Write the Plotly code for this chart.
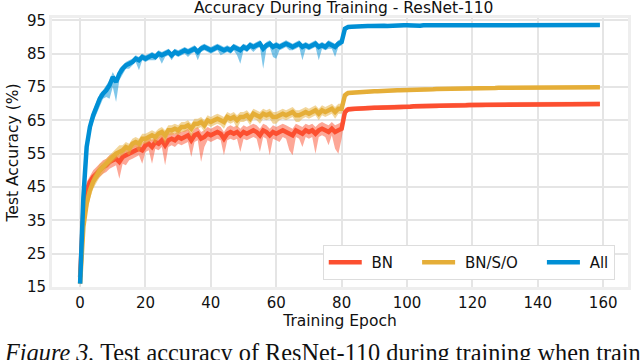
import plotly.graph_objects as go

# epochs 0..159
epochs = list(range(160))

# mean test accuracy per epoch
all_mean = [
    16.0, 42.0, 57.0, 63.0, 66.5, 69.0, 71.5, 73.0, 74.0, 75.5,
    78.0, 76.5, 79.0, 80.5, 81.5, 82.0, 82.5, 83.5, 83.0, 84.0,
    83.5, 84.0, 84.5, 84.0, 85.0, 84.5, 85.0, 85.5, 84.5, 85.5,
    85.0, 85.5, 86.0, 85.5, 86.0, 86.5, 85.5, 86.5, 87.0, 86.5,
    86.0, 86.5, 87.0, 86.5, 86.0, 86.5, 86.0, 87.0, 86.5, 86.0,
    87.0, 86.5, 87.5, 87.0, 87.5, 88.0, 86.5, 87.5, 88.0, 87.0,
    87.5, 87.0, 87.5, 88.0, 87.5, 87.0, 87.5, 88.0, 87.0, 87.5,
    87.0, 87.5, 88.0, 87.0, 87.5, 87.0, 88.0, 87.5, 87.0, 88.0,
    88.5, 92.5, 93.0, 93.1, 93.2, 93.2, 93.3, 93.2, 93.3, 93.3,
    93.4, 93.3, 93.4, 93.4, 93.3, 93.4, 93.5, 93.4, 93.4, 93.5,
    93.5, 93.4, 93.5, 93.5, 93.4, 93.5, 93.5, 93.5, 93.6, 93.5,
    93.5, 93.6, 93.5, 93.5, 93.6, 93.5, 93.6, 93.6, 93.5, 93.6,
    93.6, 93.5, 93.6, 93.6, 93.6, 93.5, 93.6, 93.6, 93.6, 93.5,
    93.6, 93.6, 93.5, 93.6, 93.6, 93.6, 93.5, 93.6, 93.6, 93.6,
    93.6, 93.5, 93.6, 93.6, 93.6, 93.6, 93.5, 93.6, 93.6, 93.6,
    93.6, 93.6, 93.5, 93.6, 93.6, 93.6, 93.6, 93.5, 93.6, 93.6,
]
bnso_mean = [
    16.0, 33.0, 40.0, 44.0, 46.5, 48.5, 50.0, 51.0, 52.0, 53.0,
    54.0, 55.0, 55.5, 56.0, 57.0, 56.5, 58.0, 58.5, 58.0, 59.5,
    59.5, 60.0, 60.5, 60.0, 61.0, 61.5, 60.5, 62.0, 62.0, 62.5,
    62.0, 63.0, 63.0, 63.5, 62.5, 64.0, 64.0, 64.5, 63.5, 65.0,
    64.5, 65.0, 65.5, 65.0, 64.5, 66.0, 65.5, 66.0, 65.0, 66.0,
    66.0, 66.5, 65.5, 67.0, 66.5, 66.0, 67.0, 66.5, 67.0, 66.0,
    66.0, 66.5, 67.0, 66.5, 67.0, 67.5, 66.5, 66.5, 67.0, 67.5,
    67.0, 67.5, 68.0, 67.0, 68.0, 67.5, 68.0, 68.5, 67.5, 68.5,
    68.5, 72.5, 73.2, 73.3, 73.4, 73.4, 73.5, 73.5, 73.6, 73.6,
    73.7, 73.7, 73.8, 73.8, 73.8, 73.9, 73.9, 74.0, 74.0, 74.0,
    74.1, 74.1, 74.1, 74.2, 74.2, 74.2, 74.3, 74.3, 74.3, 74.4,
    74.4, 74.4, 74.4, 74.5, 74.5, 74.5, 74.5, 74.6, 74.6, 74.6,
    74.6, 74.6, 74.7, 74.7, 74.7, 74.7, 74.7, 74.7, 74.8, 74.8,
    74.8, 74.8, 74.8, 74.8, 74.8, 74.8, 74.9, 74.8, 74.9, 74.9,
    74.9, 74.8, 74.9, 74.9, 74.9, 74.9, 74.9, 74.9, 74.9, 74.9,
    74.9, 74.9, 74.9, 74.9, 74.9, 74.9, 74.9, 74.9, 74.9, 74.9,
]
bn_mean = [
    18.0, 38.0, 44.0, 46.5, 48.0, 49.0, 50.0, 51.0, 51.5, 52.5,
    53.0, 53.5, 52.5, 54.0, 54.5, 55.0, 55.5, 56.0, 56.5, 56.0,
    57.5, 58.0, 57.0, 58.5, 58.0, 59.0, 57.5, 59.0, 59.5, 59.0,
    60.0, 59.5, 60.0, 60.5, 59.0, 60.5, 61.0, 59.5, 60.0, 61.0,
    60.5, 61.0, 61.5, 61.0, 59.5, 61.0, 61.5, 61.0, 61.5, 60.5,
    61.5, 61.0, 61.5, 62.0, 61.5, 60.5, 62.0, 61.5, 60.5, 61.5,
    61.0, 61.5, 62.0, 61.5, 61.0, 60.5, 62.0, 61.5, 61.0, 62.0,
    61.5, 62.0, 61.0, 62.0, 62.5, 62.0, 61.5, 62.5, 61.5, 62.0,
    62.5, 67.5, 68.3, 68.4, 68.5, 68.5, 68.6, 68.6, 68.7, 68.7,
    68.8, 68.8, 68.8, 68.9, 68.9, 68.9, 69.0, 69.0, 69.0, 69.1,
    69.1, 69.1, 69.2, 69.2, 69.2, 69.2, 69.3, 69.3, 69.3, 69.3,
    69.4, 69.4, 69.4, 69.4, 69.5, 69.5, 69.5, 69.5, 69.5, 69.6,
    69.6, 69.6, 69.6, 69.6, 69.7, 69.7, 69.7, 69.7, 69.7, 69.7,
    69.7, 69.8, 69.8, 69.8, 69.8, 69.8, 69.8, 69.8, 69.8, 69.8,
    69.8, 69.8, 69.9, 69.8, 69.9, 69.8, 69.9, 69.9, 69.8, 69.9,
    69.9, 69.9, 69.9, 69.8, 69.9, 69.9, 69.9, 69.9, 69.9, 69.9,
]

# spread of the shaded band below / above the mean
all_lo = [
    1.0, 3.0, 3.0, 2.0, 2.0, 2.0, 2.0, 1.5, 2.0, 4.0,
    3.0, 6.0, 2.0, 1.5, 1.0, 1.5, 1.0, 1.0, 3.0, 1.0,
    1.0, 1.0, 1.5, 1.0, 1.0, 2.5, 1.0, 1.0, 1.5, 1.0,
    1.0, 1.0, 1.0, 1.5, 1.0, 1.0, 2.5, 1.0, 1.0, 1.0,
    1.0, 1.0, 1.0, 2.0, 1.0, 1.0, 1.0, 1.0, 2.0, 4.0,
    1.0, 1.0, 1.0, 1.5, 1.0, 1.0, 6.0, 1.0, 1.0, 3.0,
    4.0, 1.0, 1.0, 1.0, 1.5, 1.0, 1.0, 1.0, 4.0, 1.0,
    1.0, 1.0, 1.0, 4.0, 1.0, 1.0, 1.5, 1.0, 3.0, 1.0,
    1.0, 1.0, 0.6, 0.5, 0.5, 0.5, 0.5, 0.5, 0.5, 0.5,
    0.5, 0.5, 0.5, 0.5, 0.5, 0.5, 0.5, 0.5, 0.5, 0.5,
    0.5, 0.5, 0.5, 0.5, 0.5, 0.5, 0.5, 0.5, 0.5, 0.5,
    0.5, 0.5, 0.5, 0.5, 0.5, 0.5, 0.5, 0.5, 0.5, 0.5,
    0.5, 0.5, 0.5, 0.5, 0.5, 0.5, 0.5, 0.5, 0.5, 0.5,
    0.5, 0.5, 0.5, 0.5, 0.5, 0.5, 0.5, 0.5, 0.5, 0.5,
    0.5, 0.5, 0.5, 0.5, 0.5, 0.5, 0.5, 0.5, 0.5, 0.5,
    0.5, 0.5, 0.5, 0.5, 0.5, 0.5, 0.5, 0.5, 0.5, 0.5,
]
all_hi = [
    1.0, 2.0, 2.0, 1.5, 1.5, 1.5, 1.5, 1.0, 1.5, 1.5,
    1.5, 1.0, 1.5, 1.0, 1.0, 1.0, 1.0, 1.0, 1.0, 1.0,
    1.0, 1.0, 1.0, 1.0, 1.0, 1.0, 1.0, 1.0, 1.0, 1.0,
    1.0, 1.0, 1.0, 1.0, 1.0, 1.0, 1.0, 1.0, 1.0, 1.0,
    1.0, 1.0, 1.0, 1.0, 1.0, 1.0, 1.0, 1.0, 1.0, 1.0,
    1.0, 1.0, 1.0, 1.0, 1.0, 1.0, 1.0, 1.0, 1.0, 1.0,
    1.0, 1.0, 1.0, 1.0, 1.0, 1.0, 1.0, 1.0, 1.0, 1.0,
    1.0, 1.0, 1.0, 1.0, 1.0, 1.0, 1.0, 1.0, 1.0, 1.0,
    1.0, 0.8, 0.5, 0.4, 0.4, 0.4, 0.4, 0.4, 0.4, 0.4,
    0.4, 0.4, 0.4, 0.4, 0.4, 0.4, 0.4, 0.4, 0.4, 0.4,
    0.4, 0.4, 0.4, 0.4, 0.4, 0.4, 0.4, 0.4, 0.4, 0.4,
    0.4, 0.4, 0.4, 0.4, 0.4, 0.4, 0.4, 0.4, 0.4, 0.4,
    0.4, 0.4, 0.4, 0.4, 0.4, 0.4, 0.4, 0.4, 0.4, 0.4,
    0.4, 0.4, 0.4, 0.4, 0.4, 0.4, 0.4, 0.4, 0.4, 0.4,
    0.4, 0.4, 0.4, 0.4, 0.4, 0.4, 0.4, 0.4, 0.4, 0.4,
    0.4, 0.4, 0.4, 0.4, 0.4, 0.4, 0.4, 0.4, 0.4, 0.4,
]
bnso_lo = [
    1.0, 3.0, 3.0, 2.5, 2.0, 2.0, 2.0, 2.0, 1.5, 1.5,
    1.5, 1.5, 1.5, 1.5, 1.5, 2.0, 1.5, 1.5, 2.5, 1.5,
    1.5, 1.5, 1.5, 2.0, 1.5, 1.5, 2.5, 1.5, 1.5, 1.5,
    1.5, 1.5, 1.5, 1.5, 2.5, 1.5, 1.5, 1.5, 2.0, 1.5,
    1.5, 1.5, 1.5, 1.5, 2.0, 1.5, 1.5, 1.5, 2.5, 1.5,
    1.5, 1.5, 2.0, 1.5, 1.5, 2.0, 1.5, 1.5, 1.5, 2.0,
    2.0, 1.5, 1.5, 1.5, 1.5, 1.5, 2.0, 2.0, 1.5, 1.5,
    1.5, 1.5, 1.5, 2.0, 1.5, 1.5, 1.5, 1.5, 2.0, 1.5,
    1.5, 1.0, 0.6, 0.5, 0.5, 0.5, 0.5, 0.5, 0.5, 0.5,
    0.5, 0.5, 0.5, 0.5, 0.5, 0.5, 0.5, 0.5, 0.5, 0.5,
    0.5, 0.5, 0.5, 0.5, 0.5, 0.5, 0.5, 0.5, 0.5, 0.5,
    0.5, 0.5, 0.5, 0.5, 0.5, 0.5, 0.5, 0.5, 0.5, 0.5,
    0.5, 0.5, 0.5, 0.5, 0.5, 0.5, 0.5, 0.5, 0.5, 0.5,
    0.5, 0.5, 0.5, 0.5, 0.5, 0.5, 0.5, 0.5, 0.5, 0.5,
    0.5, 0.5, 0.5, 0.5, 0.5, 0.5, 0.5, 0.5, 0.5, 0.5,
    0.5, 0.5, 0.5, 0.5, 0.5, 0.5, 0.5, 0.5, 0.5, 0.5,
]
bnso_hi = [
    1.0, 2.5, 2.5, 2.0, 2.0, 2.0, 2.0, 1.5, 1.5, 1.5,
    1.5, 1.5, 2.0, 1.5, 1.5, 1.5, 1.5, 1.5, 1.5, 1.5,
    1.5, 1.5, 1.5, 1.5, 1.5, 1.5, 1.5, 1.5, 1.5, 1.5,
    1.5, 1.5, 1.5, 1.5, 1.5, 1.5, 1.5, 1.5, 1.5, 1.5,
    1.5, 1.5, 1.5, 1.5, 1.5, 1.5, 1.5, 1.5, 1.5, 1.5,
    1.5, 1.5, 1.5, 1.5, 1.5, 1.5, 1.5, 1.5, 1.5, 1.5,
    1.5, 1.5, 1.5, 1.5, 1.5, 1.5, 1.5, 1.5, 1.5, 1.5,
    1.5, 1.5, 1.5, 1.5, 1.5, 1.5, 1.5, 1.5, 1.5, 1.5,
    1.5, 1.0, 0.6, 0.5, 0.5, 0.5, 0.5, 0.5, 0.5, 0.5,
    0.5, 0.5, 0.5, 0.5, 0.5, 0.5, 0.5, 0.5, 0.5, 0.5,
    0.5, 0.5, 0.5, 0.5, 0.5, 0.5, 0.5, 0.5, 0.5, 0.5,
    0.5, 0.5, 0.5, 0.5, 0.5, 0.5, 0.5, 0.5, 0.5, 0.5,
    0.5, 0.5, 0.5, 0.5, 0.5, 0.5, 0.5, 0.5, 0.5, 0.5,
    0.5, 0.5, 0.5, 0.5, 0.5, 0.5, 0.5, 0.5, 0.5, 0.5,
    0.5, 0.5, 0.5, 0.5, 0.5, 0.5, 0.5, 0.5, 0.5, 0.5,
    0.5, 0.5, 0.5, 0.5, 0.5, 0.5, 0.5, 0.5, 0.5, 0.5,
]
bn_lo = [
    2.0, 4.0, 2.0, 2.0, 2.0, 2.0, 2.0, 2.0, 2.0, 2.0,
    2.0, 2.0, 5.0, 2.0, 3.0, 2.0, 2.0, 2.0, 2.0, 4.0,
    2.0, 2.0, 5.0, 2.0, 2.0, 2.0, 6.0, 2.0, 2.0, 2.0,
    2.0, 2.0, 2.0, 2.0, 5.0, 2.0, 2.0, 7.0, 3.0, 2.0,
    2.0, 2.0, 2.0, 2.0, 5.0, 2.0, 2.0, 2.0, 2.0, 5.0,
    2.0, 2.0, 2.0, 2.0, 2.0, 5.0, 2.0, 2.0, 6.0, 2.0,
    2.0, 3.0, 2.0, 2.0, 5.0, 6.0, 2.0, 2.0, 4.0, 2.0,
    2.0, 2.0, 6.0, 2.0, 2.0, 2.0, 4.0, 2.0, 5.0, 7.0,
    3.0, 1.5, 0.8, 0.7, 0.7, 0.7, 0.7, 0.7, 0.7, 0.7,
    0.7, 0.7, 0.7, 0.7, 0.7, 0.7, 0.7, 0.7, 0.7, 0.7,
    0.7, 0.7, 0.7, 0.7, 0.7, 0.7, 0.7, 0.7, 0.7, 0.7,
    0.7, 0.7, 0.7, 0.7, 0.7, 0.7, 0.7, 0.7, 0.7, 0.7,
    0.7, 0.7, 0.7, 0.7, 0.7, 0.7, 0.7, 0.7, 0.7, 0.7,
    0.7, 0.7, 0.7, 0.7, 0.7, 0.7, 0.7, 0.7, 0.7, 0.7,
    0.7, 0.7, 0.7, 0.7, 0.7, 0.7, 0.7, 0.7, 0.7, 0.7,
    0.7, 0.7, 0.7, 0.7, 0.7, 0.7, 0.7, 0.7, 0.7, 0.7,
]
bn_hi = [
    2.0, 3.0, 2.5, 2.0, 2.0, 2.0, 2.0, 2.0, 2.0, 2.0,
    2.0, 2.0, 2.0, 2.0, 2.0, 2.0, 2.0, 2.0, 2.0, 2.0,
    2.0, 2.0, 2.0, 2.0, 2.0, 2.0, 2.0, 2.0, 2.0, 2.0,
    2.0, 2.0, 2.0, 2.0, 2.0, 2.0, 2.0, 2.0, 2.0, 2.0,
    2.0, 2.0, 2.0, 2.0, 2.0, 2.0, 2.0, 2.0, 2.0, 2.0,
    2.0, 2.0, 2.0, 2.0, 2.0, 2.0, 2.0, 2.0, 2.0, 2.0,
    2.0, 2.0, 2.0, 2.0, 2.0, 2.0, 2.0, 2.0, 2.0, 2.0,
    2.0, 2.0, 2.0, 2.0, 2.0, 2.0, 2.0, 2.0, 2.0, 2.0,
    2.0, 1.2, 0.8, 0.7, 0.7, 0.7, 0.7, 0.7, 0.7, 0.7,
    0.7, 0.7, 0.7, 0.7, 0.7, 0.7, 0.7, 0.7, 0.7, 0.7,
    0.7, 0.7, 0.7, 0.7, 0.7, 0.7, 0.7, 0.7, 0.7, 0.7,
    0.7, 0.7, 0.7, 0.7, 0.7, 0.7, 0.7, 0.7, 0.7, 0.7,
    0.7, 0.7, 0.7, 0.7, 0.7, 0.7, 0.7, 0.7, 0.7, 0.7,
    0.7, 0.7, 0.7, 0.7, 0.7, 0.7, 0.7, 0.7, 0.7, 0.7,
    0.7, 0.7, 0.7, 0.7, 0.7, 0.7, 0.7, 0.7, 0.7, 0.7,
    0.7, 0.7, 0.7, 0.7, 0.7, 0.7, 0.7, 0.7, 0.7, 0.7,
]

x_ticks = [0, 20, 40, 60, 80, 100, 120, 140, 160]
y_ticks = [15, 25, 35, 45, 55, 65, 75, 85, 95]

NB = "\u00a0"
series = [
    ("BN", bn_mean, bn_lo, bn_hi, "#fc4f30", "rgba(252,79,48,0.5)", NB * 4),
    ("BN/S/O", bnso_mean, bnso_lo, bnso_hi, "#e5ae38", "rgba(229,174,56,0.5)", NB * 4),
    ("All", all_mean, all_lo, all_hi, "#008fd5", "rgba(0,143,213,0.5)", ""),
]

FONT = "DejaVu Sans"

fig = go.Figure()
for name, mean, lo, hi, color, fill, pad in series:
    lower = [m - d for m, d in zip(mean, lo)]
    upper = [m + d for m, d in zip(mean, hi)]
    fig.add_trace(go.Scatter(x=epochs, y=lower, mode="lines",
                             line=dict(width=0, color=fill),
                             hoverinfo="skip", showlegend=False))
    fig.add_trace(go.Scatter(x=epochs, y=upper, mode="lines",
                             line=dict(width=0, color=fill),
                             fill="tonexty", fillcolor=fill,
                             hoverinfo="skip", showlegend=False))
    fig.add_trace(go.Scatter(x=epochs, y=mean, mode="lines",
                             name=NB + name + pad,
                             line=dict(color=color, width=4.5)))

fig.update_layout(
    template="none",
    width=640, height=360,
    margin=dict(l=52, r=12, t=18, b=73),
    paper_bgcolor="white", plot_bgcolor="white",
    font=dict(family=FONT, size=14, color="#111111"),
    title=dict(text="Accuracy During Training - ResNet-110",
               x=0.537, xanchor="center", y=0.978, yanchor="middle",
               font=dict(family=FONT, size=15.5, color="#111111")),
    legend=dict(orientation="h", x=0.977, xanchor="right",
                y=0.026, yanchor="bottom",
                bgcolor="white", bordercolor="#dddddd", borderwidth=1,
                font=dict(family=FONT, size=15, color="#111111"),
                itemwidth=33, traceorder="normal"),
    showlegend=True,
)
fig.update_xaxes(range=[-8.6, 167.6], tickvals=x_ticks, automargin=False,
                 showgrid=True, gridcolor="#e5e5e5", gridwidth=1.5,
                 zeroline=False, showline=True, mirror=True,
                 linecolor="#eeeeee", linewidth=3, ticks="",
                 tickfont=dict(size=15, color="#111111"),
                 title=dict(text="Training Epoch", standoff=1,
                            font=dict(size=15.5, color="#111111")))
fig.update_yaxes(range=[15, 95.7], tickvals=y_ticks, automargin=False,
                 showgrid=True, gridcolor="#e5e5e5", gridwidth=1.5,
                 zeroline=False, showline=True, mirror=True,
                 linecolor="#eeeeee", linewidth=3, ticks="",
                 tickfont=dict(size=15, color="#111111"),
                 title=dict(text="Test Accuracy (%)", standoff=5,
                            font=dict(size=15.5, color="#111111")))

fig.add_annotation(
    text="<i>Figure 3.</i> Test accuracy of ResNet-110 during training when train",
    xref="paper", yref="paper", x=-0.087, y=-0.244,
    xanchor="left", yanchor="middle", showarrow=False,
    font=dict(family="Liberation Serif", size=24.3, color="#111111"))

# drop the browser's default body margin so the figure sits at the page corner
fig.write_html("out.html", config={"displayModeBar": False},
               post_script="document.body.style.margin='0px';")
